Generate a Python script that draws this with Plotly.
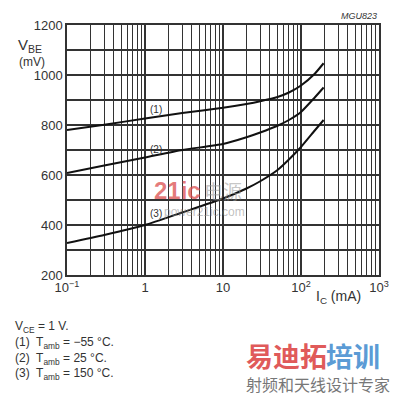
import plotly.graph_objects as go

ic_ma = [0.1, 0.3, 1, 3, 10, 20, 30, 50, 70, 100, 150, 195]
vbe_m55 = [780, 801, 826, 848, 869, 884, 895, 912, 930, 958, 1005, 1047]
vbe_25 = [608, 638, 670, 700, 724, 751, 770, 797, 820, 852, 910, 950]
vbe_150 = [328, 360, 400, 450, 506, 546, 575, 620, 662, 712, 778, 820]

x_tickvals = [0.1, 1, 10, 100, 1000]
x_ticktext = ["10<sup>−1</sup>", "1", "10", "10<sup>2</sup>", "10<sup>3</sup>"]
y_tickvals = [200, 400, 600, 800, 1000, 1200]

W, H = 401, 398
L, R, T, B = 67, 18, 25, 123
pw, ph = W - L - R, H - T - B


def px(x, y):
    return (x - L) / pw, (H - B - y) / ph


FONT = "Liberation Sans, Arial, sans-serif"
TXT = "#333333"
GRID = "#333333"

fig = go.Figure()
for ys in (vbe_m55, vbe_25, vbe_150):
    fig.add_trace(go.Scatter(x=ic_ma, y=ys, mode="lines",
                             line=dict(color="#111111", width=2, shape="spline", smoothing=0.5),
                             showlegend=False, hoverinfo="skip"))

fig.update_xaxes(type="log", range=[-1, 3], tickvals=x_tickvals, ticktext=x_ticktext,
                 showgrid=True, gridcolor=GRID, gridwidth=1.5,
                 minor=dict(showgrid=True, gridcolor=GRID, gridwidth=1.4, dtick="D1", ticks=""),
                 showline=True, linecolor=GRID, linewidth=1.5, mirror=True,
                 ticks="", zeroline=False,
                 tickfont=dict(family=FONT, size=13, color=TXT))
fig.update_yaxes(range=[200, 1200], tickvals=y_tickvals, dtick=100,
                 showgrid=True, gridcolor=GRID, gridwidth=1.5,
                 minor=dict(showgrid=True, gridcolor=GRID, gridwidth=1.5, dtick=100),
                 showline=True, linecolor=GRID, linewidth=1.5, mirror=True,
                 ticks="", zeroline=False,
                 tickfont=dict(family=FONT, size=13, color=TXT))

ann = []


def add(text, x, y, size=12, color=TXT, xanchor="left", yanchor="middle", **kw):
    ax, ay = px(x, y)
    ann.append(dict(text=text, x=ax, y=ay, xref="paper", yref="paper", showarrow=False,
                    xanchor=xanchor, yanchor=yanchor,
                    font=dict(family=kw.pop("family", FONT), size=size, color=color), **kw))


add("<i>MGU823</i>", 383, 16, size=9, xanchor="right")
add("V<sub>BE</sub>", 15, 46, size=15)
add("(mV)", 16, 62, size=12)
add("I<sub>C</sub> (mA)", 317, 297, size=14)
add("(1)", 149, 110, size=10)
add("(2)", 149, 149, size=10)
add("(3)", 149, 213, size=10)

add("V<sub>CE</sub> = 1 V.", 12, 327, size=12)
add("(1)  T<sub>amb</sub> = −55 °C.", 12, 343, size=12)
add("(2)  T<sub>amb</sub> = 25 °C.", 12, 358.5, size=12)
add("(3)  T<sub>amb</sub> = 150 °C.", 12, 374, size=12)

# watermarks
add("<b>21ic</b>", 153, 191, size=24, color="rgba(220,80,80,0.75)")
add("电源", 204, 191, size=19, color="rgba(150,150,150,0.55)", family="Noto Sans CJK SC")
add("power21ic.com", 163, 212, size=12, color="rgba(140,140,140,0.55)")
add("<b>易迪拓</b>", 246, 355, size=27, color="#e05a5a", family="Noto Sans CJK SC")
add("<b>培训</b>", 327, 355, size=27, color="#5b9bd5", family="Noto Sans CJK SC")
add("射频和天线设计专家", 246, 384, size=16, color="#777777", family="Noto Sans CJK SC")

fig.update_layout(width=W, height=H, margin=dict(l=L, r=R, t=T, b=B),
                  paper_bgcolor="white", plot_bgcolor="white", annotations=ann)

fig.write_html("out.html")
